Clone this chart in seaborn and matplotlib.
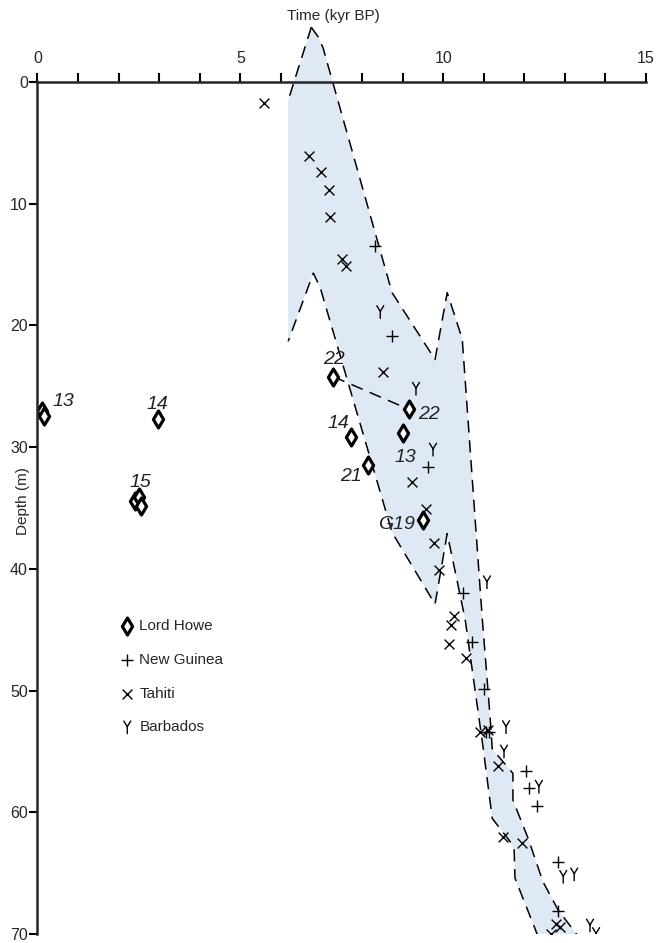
import matplotlib
matplotlib.use("Agg")
import matplotlib.pyplot as plt
from matplotlib.path import Path
from matplotlib.ticker import MultipleLocator
import seaborn as sns

# Lord Howe (time kyr BP, depth m)
lh_time = [0.12, 0.17, 2.96, 2.41, 2.51, 2.56, 7.29, 9.16, 7.73, 9.01, 8.15, 9.51]
lh_depth = [27.0, 27.4, 27.7, 34.4, 34.1, 34.8, 24.2, 26.9, 29.2, 28.8, 31.5, 36.0]

# New Guinea
ng_time = [8.33, 8.74, 9.63, 10.49, 10.71, 11.01, 11.06, 11.13, 12.04, 12.12, 12.32, 12.83, 12.83]
ng_depth = [13.5, 20.9, 31.6, 42.0, 46.0, 49.9, 53.4, 53.4, 56.6, 58.0, 59.5, 64.1, 68.1]

# Tahiti
ta_time = [5.59, 6.70, 7.00, 7.19, 7.22, 7.51, 7.61, 8.52, 9.24, 9.58, 9.78, 9.90,
           10.27, 10.20, 10.15, 10.57, 10.91, 11.11, 11.35, 11.48, 11.95, 12.78, 12.88, 12.66]
ta_depth = [1.7, 6.1, 7.4, 8.9, 11.1, 14.5, 15.1, 23.8, 32.9, 35.1, 37.9, 40.1,
            43.9, 44.6, 46.2, 47.3, 53.4, 53.2, 56.2, 62.0, 62.5, 69.2, 69.4, 70.0]

# Barbados
ba_time = [8.45, 9.33, 9.75, 11.08, 11.55, 11.50, 12.36, 12.96, 13.23, 13.62, 13.77]
ba_depth = [18.9, 25.2, 30.2, 41.1, 53.0, 55.0, 57.9, 65.3, 65.1, 69.3, 70.0]

# sea-level envelope: upper (right) edge top->bottom, lower (left) edge bottom->top
env_upper_t = [6.75, 6.92, 7.04, 8.74, 9.80, 10.10, 10.47, 10.96, 11.16, 11.21,
               11.72, 11.72, 12.09, 12.46, 12.83, 13.33]
env_upper_d = [-4.5, -3.7, -2.8, 17.3, 22.8, 17.3, 21.1, 43.9, 52.3, 54.8,
               56.8, 59.0, 62.1, 65.7, 68.0, 70.2]
env_lower_t = [12.34, 11.77, 11.75, 11.65, 11.21, 10.99, 10.54, 10.10, 9.80, 8.74,
               6.97, 6.80, 6.18, 6.18]
env_lower_d = [70.2, 65.4, 63.1, 62.4, 60.5, 54.8, 44.1, 37.1, 42.9, 37.0,
               16.9, 15.7, 21.3, 1.5]

# sample labels for Lord Howe points
lab_text = ["13", "14", "15", "22", "22", "14", "13", "21", "G19"]
lab_time = [0.64, 2.96, 2.54, 7.32, 9.64, 7.41, 9.08, 7.73, 8.84]
lab_depth = [26.6, 26.9, 33.3, 23.2, 27.7, 28.4, 31.2, 32.8, 36.7]

sns.set_style("ticks")
plt.rcParams["font.family"] = ["Liberation Sans", "DejaVu Sans"]

fig = plt.figure(figsize=(6.61, 9.43), dpi=100)
ax = fig.add_axes([0.0567, 0.0095, 0.9206, 0.9905])

dash = (0, (8, 5))
# envelope fill
ax.fill(env_upper_t + env_lower_t, env_upper_d + env_lower_d,
        color="#dfe9f6", lw=0, zorder=1)
# dashed edges (the vertical left edge has no line)
ax.plot(env_upper_t, env_upper_d, color="black", lw=1.1, ls=dash, zorder=2)
ax.plot([env_upper_t[0], env_lower_t[-1]], [env_upper_d[0], env_lower_d[-1]],
        color="black", lw=1.1, ls=dash, zorder=2)
ax.plot(env_lower_t[:-1], env_lower_d[:-1], color="black", lw=1.1, ls=dash, zorder=2)
# link between the two "22" samples
ax.plot([lh_time[6], lh_time[7]], [lh_depth[6], lh_depth[7]],
        color="black", lw=1.1, ls=dash, zorder=2)

y_marker = Path([(-0.55, 1), (0, 0.1), (0.55, 1), (0, 0.1), (0, -1)],
                [Path.MOVETO, Path.LINETO, Path.LINETO, Path.MOVETO, Path.LINETO])

sns.scatterplot(x=lh_time, y=lh_depth, marker="d", s=75, color="white",
                edgecolor="black", linewidth=2.3, label="Lord Howe", ax=ax, zorder=4)
sns.scatterplot(x=ng_time, y=ng_depth, marker="+", s=75, color="black",
                linewidth=1.0, label="New Guinea", ax=ax, zorder=3)
sns.scatterplot(x=ta_time, y=ta_depth, marker="x", s=50, color="black",
                linewidth=1.0, label="Tahiti", ax=ax, zorder=3)
sns.scatterplot(x=ba_time, y=ba_depth, marker=y_marker, s=95, color="black",
                facecolor="none", edgecolor="black", linewidth=1.0,
                label="Barbados", ax=ax, zorder=3)

for txt, t, d in zip(lab_text, lab_time, lab_depth):
    ax.text(t, d, txt, fontsize=14, fontstyle="italic", color="#222222",
            ha="center", va="baseline", zorder=5)

ax.set_xlim(0, 15)
ax.set_ylim(70, -6.74)

ax.spines["right"].set_visible(False)
ax.spines["bottom"].set_visible(False)
ax.spines["top"].set_position(("data", 0))
ax.spines["left"].set_bounds(0, 70)
for s in ("top", "left"):
    ax.spines[s].set_linewidth(1.8)
    ax.spines[s].set_zorder(6)

ax.set_xticks([0, 5, 10, 15])
ax.xaxis.set_minor_locator(MultipleLocator(1))
ax.tick_params(axis="x", which="both", top=True, bottom=False, labeltop=True,
               labelbottom=False, direction="out", length=6.5, width=1.5, pad=5,
               labelsize=11.5, color="black")
ax.set_yticks(range(0, 71, 10))
ax.tick_params(axis="y", which="both", left=True, right=False, direction="out",
               length=5.5, width=1.5, pad=1.5, labelsize=11.5, color="black")

ax.set_xlabel("Time (kyr BP)", fontsize=11)
ax.xaxis.set_label_position("top")
ax.xaxis.set_label_coords(0.486, 0.979)
ax.set_ylabel("Depth (m)", fontsize=11)
ax.yaxis.set_label_coords(-0.012, 0.4636)

ax.legend(loc="upper left", bbox_to_anchor=(0.135, 0.337), frameon=False,
          fontsize=11, borderpad=0, borderaxespad=0, handlelength=1.0,
          handletextpad=0.3, labelspacing=1.29, scatterpoints=1)

fig.savefig("out.png", dpi=100)
